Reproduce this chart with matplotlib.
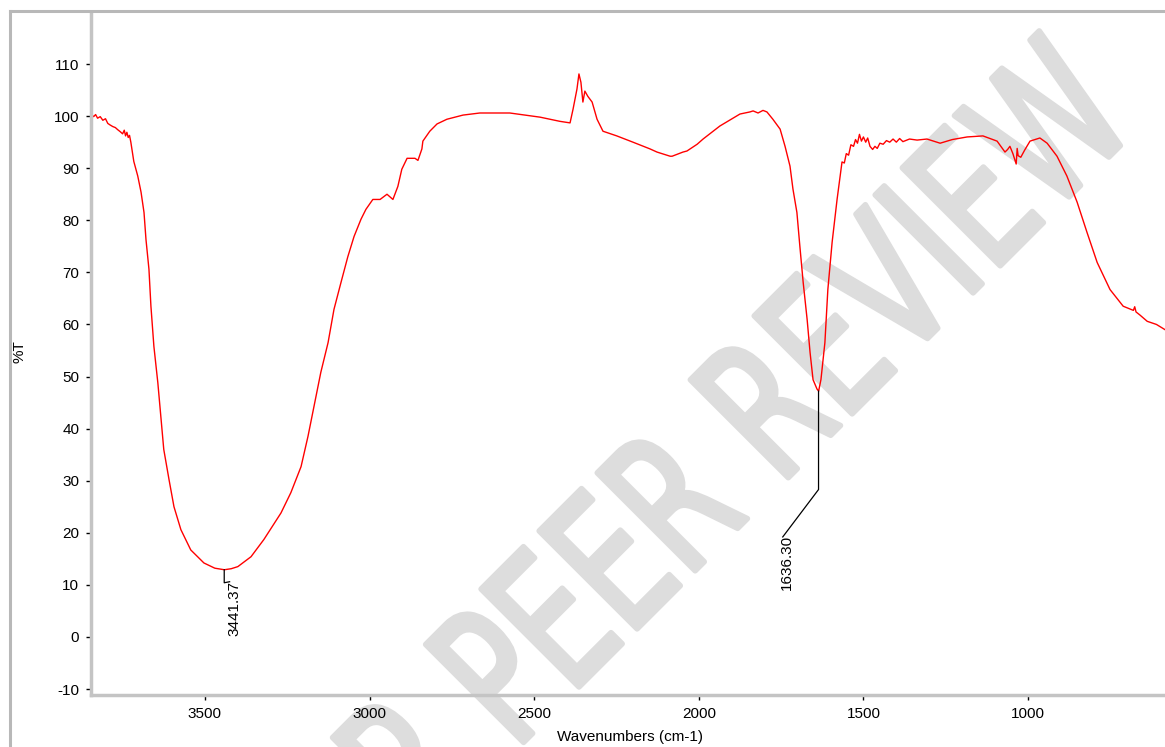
import matplotlib
matplotlib.use('Agg')
import matplotlib.pyplot as plt
from matplotlib.lines import Line2D
from matplotlib.patches import PathPatch
from matplotlib.textpath import TextPath, text_to_path
from matplotlib.font_manager import FontProperties
from matplotlib.transforms import Affine2D, IdentityTransform
from matplotlib.ticker import MultipleLocator

plt.rcParams['axes.unicode_minus'] = False

# FTIR spectrum (wavenumber cm-1, %T)
wavenumber = [
    3846, 3838, 3832, 3826, 3818, 3810, 3802, 3795, 3788, 3780,
    3772, 3765, 3757, 3750, 3745, 3741, 3737, 3733, 3729, 3725,
    3716, 3704, 3694, 3685, 3679, 3670, 3664, 3655, 3643, 3634,
    3625, 3609, 3594, 3573, 3543, 3503, 3470, 3441, 3420, 3400,
    3360, 3321, 3269, 3239, 3208, 3187, 3169, 3148, 3126, 3108,
    3087, 3066, 3047, 3026, 3011, 2990, 2968, 2947, 2929, 2914,
    2902, 2886, 2862, 2853, 2841, 2838, 2817, 2795, 2765, 2716,
    2665, 2574, 2482, 2422, 2391, 2382, 2370, 2364, 2358, 2352,
    2346, 2337, 2324, 2309, 2291, 2249, 2200, 2148, 2127, 2087,
    2081, 2048, 2036, 2005, 1987, 1936, 1875, 1845, 1835, 1820,
    1805, 1793, 1775, 1753, 1738, 1723, 1714, 1702, 1693, 1683,
    1671, 1662, 1653, 1641, 1636, 1629, 1617, 1608, 1595, 1580,
    1565, 1558, 1552, 1545, 1538, 1530, 1524, 1518, 1512, 1506,
    1500, 1493, 1487, 1480, 1472, 1465, 1458, 1450, 1440, 1430,
    1420, 1410, 1400, 1390, 1380, 1360, 1337, 1307, 1267, 1230,
    1185, 1137, 1094, 1070, 1062, 1055, 1046, 1036, 1033, 1030,
    1022, 1010, 994, 964, 942, 912, 882, 851, 821, 790,
    751, 711, 680, 676, 672, 660, 638, 610, 584,
]
transmittance = [
    100.4, 99.9, 100.3, 99.6, 99.9, 99.2, 99.5, 98.6, 98.3, 98.0,
    97.8, 97.4, 97.0, 96.6, 97.3, 96.2, 96.9, 95.9, 96.3, 95.0,
    91.3, 88.5, 85.4, 81.5, 76.3, 70.6, 63.5, 55.8, 48.8, 42.3,
    36.0, 30.2, 25.0, 20.6, 16.7, 14.2, 13.2, 12.9, 13.1, 13.5,
    15.4, 18.7, 23.8, 27.7, 32.7, 38.5, 44.2, 50.8, 56.5, 62.9,
    68.0, 73.0, 76.9, 80.2, 82.1, 84.0, 84.0, 85.0, 84.0, 86.5,
    89.8, 91.9, 91.9, 91.5, 93.7, 95.2, 97.1, 98.5, 99.4, 100.2,
    100.6, 100.6, 99.8, 99.0, 98.7, 101.3, 105.2, 108.1, 106.5, 102.7,
    104.8, 103.8, 102.7, 99.4, 97.1, 96.2, 95.0, 93.7, 93.1, 92.3,
    92.3, 93.1, 93.3, 94.6, 95.6, 98.1, 100.4, 100.8, 101.0, 100.6,
    101.1, 100.8, 99.4, 97.5, 94.2, 90.4, 86.0, 81.5, 75.0, 68.1,
    61.0, 54.6, 49.4, 47.6, 47.2, 49.4, 56.5, 66.7, 75.8, 84.0,
    91.2, 91.0, 92.8, 92.5, 94.5, 94.2, 95.5, 94.8, 96.5, 95.2,
    96.0, 95.0, 95.8, 94.2, 93.6, 94.2, 93.8, 94.8, 94.6, 95.3,
    95.0, 95.6, 95.0, 95.7, 95.1, 95.6, 95.4, 95.6, 94.8, 95.5,
    96.0, 96.2, 95.2, 93.1, 93.6, 94.2, 92.8, 90.8, 93.8, 92.4,
    92.1, 93.5, 95.2, 95.8, 94.8, 92.3, 88.5, 83.5, 77.7, 71.9,
    66.7, 63.5, 62.7, 63.4, 62.4, 61.8, 60.6, 60.0, 59.0,
]

peak_labels = ['3441.37', '1636.30']
peak_x = [3441.37, 1636.30]
peak_y = [12.9, 47.2]
# leader lines: bend point and end point, then text anchor
leader_bend = [(3441.37, 10.4), (1636.30, 28.3)]
leader_end = [(3425, 10.6), (1745, 19.2)]
label_pos = [(3410, 10.7), (1733, 19.5)]

WATERMARK = 'UNDER PEER REVIEW'

W, H = 1165, 747
fig = plt.figure(figsize=(W / 100, H / 100), dpi=100)
fig.patch.set_facecolor('white')

# watermark, drawn in pixel space behind the axes
fp = FontProperties(family='DejaVu Sans')
tp = TextPath((0, 0), WATERMARK, size=1, prop=fp)
w_pre, _, _ = text_to_path.get_text_width_height_descent('UNDER P', fp, ismath=False)
off = w_pre / fp.get_size_in_points()
sx, sy = 130, 190
tr = (Affine2D().translate(-off, 0).scale(sx, sy).rotate_deg(45)
      .translate(570, H - 696))
wm = PathPatch(tr.transform_path(tp), facecolor='#dddddd', edgecolor='#dddddd',
               lw=4, joinstyle='round', capstyle='round',
               transform=IdentityTransform(), zorder=-5)
fig.add_artist(wm)

# outer frame
fig.add_artist(Line2D([10 / W, 10 / W], [0, 1 - 11 / H], color='#b8b8b8', lw=2.2,
                      transform=fig.transFigure))
fig.add_artist(Line2D([10 / W, 1], [1 - 11 / H, 1 - 11 / H], color='#b8b8b8', lw=2.2,
                      transform=fig.transFigure))

ax = fig.add_axes([91 / W, 52 / H, (W - 91) / W, (734 - 52) / H])
ax.set_facecolor('none')
ax.plot(wavenumber, transmittance, color='#ff0000', lw=1.0)

for lab, px, py, bend, end, pos in zip(peak_labels, peak_x, peak_y,
                                       leader_bend, leader_end, label_pos):
    ax.plot([px, bend[0], end[0]], [py, bend[1], end[1]], color='black', lw=0.9)
    ax.text(pos[0], pos[1], lab, rotation=90, ha='center', va='top',
            fontsize=11, family='Liberation Sans')

ax.set_xlim(3846, 584)
ax.set_ylim(-11.15, 119.8)
ax.xaxis.set_major_locator(MultipleLocator(500))
ax.xaxis.set_minor_locator(MultipleLocator(100))
ax.yaxis.set_major_locator(MultipleLocator(10))
ax.yaxis.set_minor_locator(MultipleLocator(2))

for s in ['top', 'right']:
    ax.spines[s].set_visible(False)
for s in ['left', 'bottom']:
    ax.spines[s].set_color('#c4c4c4')
    ax.spines[s].set_linewidth(2.5)

ax.tick_params(which='major', length=3.5, width=1, color='black', pad=5,
               labelsize=11)
ax.tick_params(which='minor', length=2, width=1, color='black', direction='inout')
for lbl in ax.get_xticklabels() + ax.get_yticklabels():
    lbl.set_family('Liberation Sans')

fig.text(20 / W, 1 - 352 / H, '%T', rotation=90, ha='center', va='center',
         fontsize=11, family='Liberation Sans')
fig.text(630 / W, 1 - 737 / H, 'Wavenumbers (cm-1)', ha='center', va='center',
         fontsize=11, family='Liberation Sans')

fig.savefig('out.png', dpi=100)
